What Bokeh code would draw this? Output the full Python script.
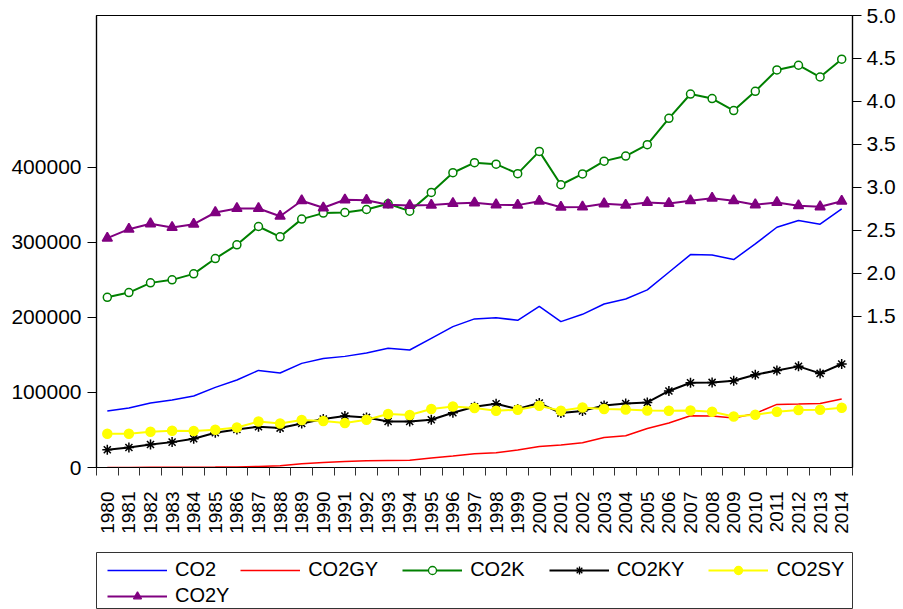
import math
from bokeh.plotting import figure
from bokeh.layouts import column
from bokeh.models import (Range1d, LinearAxis, FixedTicker, NumeralTickFormatter,
                          BasicTickFormatter, Legend, LegendItem)
from bokeh.embed import file_html
from bokeh.resources import INLINE

years = list(range(1980, 2015))

co2 = [75200, 79200, 85900, 89900, 95200, 106700, 116500, 129300, 125900, 138700,
       145300, 148000, 152500, 158700, 156500, 172000, 187600, 197900, 199600, 196000,
       214700, 194300, 204000, 217800, 224500, 236500, 260000, 283600, 283100, 276900,
       297800, 320000, 329000, 324000, 344500]
co2gy = [100, 150, 200, 250, 350, 500, 800, 1300, 2200, 5000,
         6700, 8000, 8900, 9300, 9800, 12500, 15200, 18300, 19600, 23200,
         28000, 29900, 32900, 40000, 42300, 52000, 59200, 68900, 68500, 65900,
         72000, 84000, 84500, 85300, 91200]
co2k = [1.72, 1.775, 1.888, 1.923, 1.993, 2.171, 2.331, 2.544, 2.424, 2.63,
        2.70, 2.707, 2.742, 2.809, 2.723, 2.941, 3.170, 3.287, 3.270, 3.159,
        3.418, 3.030, 3.156, 3.305, 3.364, 3.497, 3.803, 4.086, 4.033, 3.893,
        4.118, 4.366, 4.421, 4.284, 4.491]
co2ky = [23600, 26700, 30700, 33800, 38300, 46300, 50700, 54300, 52500, 58700,
         64500, 68500, 66700, 61300, 61300, 63600, 72900, 80900, 84900, 77800,
         85800, 72500, 75400, 82700, 85300, 86700, 101900, 112900, 113300, 115600,
         123600, 129300, 134700, 125300, 137900]
co2sy = [44900, 44900, 47600, 48900, 48500, 50300, 53300, 61300, 58700, 63200,
         61900, 59200, 63600, 71200, 69900, 77900, 81300, 79200, 75600, 76900,
         82300, 75600, 79800, 78000, 77300, 76000, 75600, 76000, 74300, 68000,
         70300, 74300, 76500, 76900, 79600]
co2y = [2.408, 2.513, 2.576, 2.533, 2.571, 2.707, 2.754, 2.754, 2.664, 2.844,
        2.762, 2.855, 2.85, 2.797, 2.789, 2.793, 2.812, 2.82, 2.797, 2.793,
        2.839, 2.769, 2.772, 2.809, 2.793, 2.824, 2.812, 2.844, 2.874, 2.844,
        2.797, 2.824, 2.786, 2.774, 2.839]

labels = ["CO2", "CO2GY", "CO2K", "CO2KY", "CO2SY", "CO2Y"]
left_ticks = [0, 100000, 200000, 300000, 400000]
right_ticks = [1.5, 2.0, 2.5, 3.0, 3.5, 4.0, 4.5, 5.0]
boundaries = [y - 0.5 for y in years] + [years[-1] + 0.5]

FONT = "Liberation Sans"

# style per series (colour, line width, marker, marker size, legend marker size, fill)
STYLES = {
    "CO2": ("#0000FF", 1.5, None, 0, 0, None),
    "CO2GY": ("#FF0000", 1.5, None, 0, 0, None),
    "CO2K": ("#008000", 2, "circle", 8, 6, "white"),
    "CO2KY": ("black", 2, "asterisk", 10, 8, "black"),
    "CO2SY": ("#FFFF00", 2, "circle", 9, 6, "#FFFF00"),
    "CO2Y": ("#800080", 2, "triangle", 10, 8, "#800080"),
}

p = figure(width=903, height=545, output_backend="svg", toolbar_location=None,
           x_range=Range1d(years[0] - 0.5, years[-1] + 0.5),
           y_range=Range1d(0, 602000),
           min_border_left=96, min_border_top=15, min_border_right=51,
           min_border_bottom=78)
p.extra_y_ranges = {"right": Range1d(-0.261, 5.0)}
p.grid.visible = False
p.outline_line_color = "black"
p.outline_line_width = 1.2
p.background_fill_color = "white"
p.border_fill_color = "white"

# bottom axis
xa = p.xaxis[0]
xa.ticker = FixedTicker(ticks=years, minor_ticks=boundaries)
xa.formatter = BasicTickFormatter(use_scientific=False)
xa.major_tick_out = 0
xa.major_tick_in = 0
xa.minor_tick_out = 8
xa.minor_tick_in = 0
xa.minor_tick_line_color = "#333333"
xa.major_label_orientation = math.pi / 2
xa.major_label_text_font = FONT
xa.major_label_text_font_size = "19px"
xa.major_label_text_color = "black"
xa.major_label_standoff = 16
xa.axis_line_color = "black"
xa.axis_line_width = 1.2

# left axis
ya = p.yaxis[0]
ya.ticker = FixedTicker(ticks=left_ticks)
ya.formatter = NumeralTickFormatter(format="0")
ya.major_tick_out = 9
ya.major_tick_in = 0
ya.minor_tick_out = 0
ya.minor_tick_in = 0
ya.major_label_text_font = FONT
ya.major_label_text_font_size = "21px"
ya.major_label_text_color = "black"
ya.major_label_standoff = 6
ya.axis_line_color = "black"
ya.axis_line_width = 1.2

# right axis
ra = LinearAxis(y_range_name="right", ticker=FixedTicker(ticks=right_ticks),
                formatter=NumeralTickFormatter(format="0.0"))
ra.major_tick_out = 9
ra.major_tick_in = 0
ra.minor_tick_out = 0
ra.minor_tick_in = 0
ra.major_label_text_font = FONT
ra.major_label_text_font_size = "21px"
ra.major_label_text_color = "black"
ra.major_label_standoff = 5
ra.axis_line_color = "black"
ra.axis_line_width = 1.2
p.add_layout(ra, "right")

series = {"CO2": (co2, "default"), "CO2GY": (co2gy, "default"),
          "CO2K": (co2k, "right"), "CO2KY": (co2ky, "default"),
          "CO2SY": (co2sy, "default"), "CO2Y": (co2y, "right")}

for name in labels:
    vals, rng = series[name]
    color, lw, marker, msize, lsize, mfill = STYLES[name]
    p.line(years, vals, line_color=color, line_width=lw, y_range_name=rng)
    if marker:
        p.scatter(years, vals, marker=marker, size=msize, fill_color=mfill,
                  line_color=color, line_width=1.5, y_range_name=rng)

# legend strip below the chart (its renderers lie outside its own view,
# they only provide the legend swatches); its frame outline is the legend box
p2 = figure(width=903, height=64, output_backend="svg", toolbar_location=None,
            x_range=Range1d(0, 1), y_range=Range1d(0, 1),
            x_axis_type=None, y_axis_type=None,
            min_border_left=96, min_border_right=51, min_border_top=7,
            min_border_bottom=0)
p2.grid.visible = False
p2.outline_line_color = "#333333"
p2.outline_line_width = 1
p2.background_fill_color = "white"
p2.border_fill_color = "white"

items = []
for name in labels:
    vals, rng = series[name]
    color, lw, marker, msize, lsize, mfill = STYLES[name]
    rs = [p2.line(years, vals, line_color=color, line_width=lw)]
    if marker:
        rs.append(p2.scatter(years, vals, marker=marker, size=lsize,
                             fill_color=mfill, line_color=color, line_width=1.3))
    items.append(LegendItem(label=name, renderers=rs))


def make_legend(its, loc):
    lg = Legend(items=its, orientation="horizontal", location=loc)
    lg.margin = 0
    lg.padding = 0
    lg.spacing = 24
    lg.glyph_width = 60
    lg.glyph_height = 20
    lg.label_height = 20
    lg.label_standoff = 8
    lg.label_text_font = FONT
    lg.label_text_font_size = "20px"
    lg.label_text_color = "black"
    lg.border_line_color = None
    lg.background_fill_alpha = 0
    return lg


p2.add_layout(make_legend(items[:5], (11, 28)))
p2.add_layout(make_legend(items[5:], (11, 2)))

open("out.html", "w").write(file_html(column(p, p2, spacing=0), INLINE))
